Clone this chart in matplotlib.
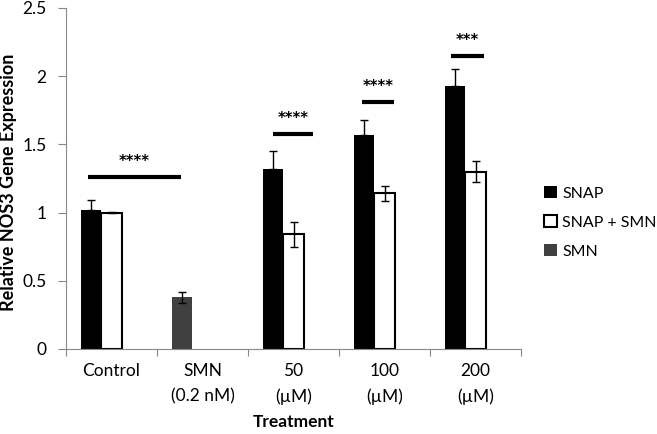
import numpy as np
import matplotlib.pyplot as plt

categories = ['Control', 'SMN\n(0.2 nM)', '50\n(µM)', '100\n(µM)', '200\n(µM)']
snap = [1.02, np.nan, 1.32, 1.57, 1.93]
snap_err = [0.07, 0, 0.13, 0.105, 0.12]
snap_smn = [1.0, np.nan, 0.84, 1.14, 1.30]
snap_smn_err = [0.005, 0, 0.09, 0.055, 0.075]
smn = [np.nan, 0.38, np.nan, np.nan, np.nan]
smn_err = [0, 0.04, 0, 0, 0]

# significance bars: category, start, end, height, label
sig_cat = [0, 2, 3, 4]
sig_x0 = [-0.26, -0.225, -0.25, -0.27]
sig_x1 = [0.76, 0.215, 0.10, 0.09]
sig_y = [1.263, 1.576, 1.808, 2.15]
sig_lbl = ['****', '****', '****', '***']

plt.rcParams['font.family'] = ['Lato', 'DejaVu Sans']

fig = plt.figure(figsize=(6.57, 4.34), dpi=100)
ax = fig.add_axes([0.1005, 0.196, 0.6925, 0.7856])

x = np.arange(len(categories))
w = 0.225
ax.bar(x - w, snap, w, color='black', label='SNAP', zorder=2)
ax.bar(x, snap_smn, w, color='white', edgecolor='black', linewidth=1.5,
       label='SNAP + SMN', zorder=2)
ax.bar(x - w, smn, w, color='#404040', label='SMN', zorder=2)

ekw = dict(fmt='none', ecolor='black', elinewidth=1, capsize=3, capthick=1, zorder=3)
ax.errorbar(x - w, snap, yerr=[np.zeros(5), snap_err], **ekw)
ax.errorbar(x, snap_smn, yerr=snap_smn_err, **ekw)
ax.errorbar(x - w, smn, yerr=smn_err, **ekw)

for c, a, b, y, s in zip(sig_cat, sig_x0, sig_x1, sig_y, sig_lbl):
    ax.plot([c + a, c + b], [y, y], color='black', lw=3, solid_capstyle='butt')
    ax.text(c + (a + b) / 2, y + 0.06, s, ha='center', va='bottom',
            fontsize=10.5, fontweight='bold', family='DejaVu Sans')

ax.set_xlim(-0.5, 4.5)
ax.set_ylim(0, 2.5)
ax.set_yticks([0, 0.5, 1, 1.5, 2, 2.5])
ax.set_yticklabels(['0', '0.5', '1', '1.5', '2', '2.5'])
ax.set_xticks(np.arange(-0.5, 5, 1))
ax.set_xticklabels([])
ax.set_xticks(x, minor=True)
ax.set_xticklabels(categories, minor=True)
for t in ax.get_xticklabels(minor=True):
    t.set_linespacing(1.7)
ax.tick_params(axis='both', which='both', labelsize=12.5)
ax.tick_params(axis='x', which='minor', length=0, pad=10)
ax.tick_params(axis='x', which='major', length=5, color='#888888')
ax.tick_params(axis='y', length=6, color='#888888', pad=8)
for sp in ['top', 'right']:
    ax.spines[sp].set_visible(False)
for sp in ['left', 'bottom']:
    ax.spines[sp].set_color('#888888')

ax.set_ylabel('Relative NOS3 Gene Expression', fontweight='bold', fontsize=13)
ax.yaxis.set_label_coords(-0.108, 0.49)
ax.set_xlabel('Treatment', fontweight='bold', fontsize=12.5)
ax.xaxis.set_label_coords(0.5, -0.19)

ax.legend(loc='upper left', bbox_to_anchor=(1.02, 0.52), frameon=False,
          fontsize=11.5, handlelength=0.8, handleheight=0.8, handletextpad=0.3,
          labelspacing=0.9)

fig.savefig('out.png', dpi=100)
